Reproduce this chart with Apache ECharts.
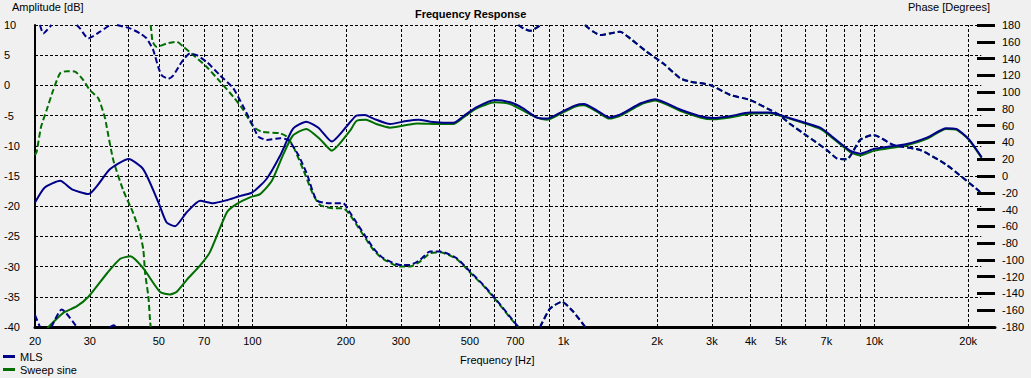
<!DOCTYPE html>
<html>
<head>
<meta charset="utf-8">
<title>Frequency Response</title>
<script src="https://cdn.jsdelivr.net/npm/echarts@6/dist/echarts.min.js"></script>
<style>
  html, body { margin: 0; padding: 0; background: #f0f0f0; }
  #chart { width: 1031px; height: 378px; }
</style>
</head>
<body>
<div id="chart"></div>
<script>
// frequency grid / labels (Hz)
const freqLabels = [20, 30, 50, 70, 100, 200, 300, 500, 700, 1000, 2000, 3000, 4000, 5000, 7000, 10000, 20000];
const freqGrid = [30, 40, 50, 60, 70, 80, 90, 100, 200, 300, 400, 500, 600, 700, 800, 900,
  1000, 2000, 3000, 4000, 5000, 6000, 7000, 8000, 9000, 10000, 20000];
const ampGrid = [-35, -30, -25, -20, -15, -10, -5, 0, 5, 10];
const gridEndFreq = 22050;

// amplitude, MLS (solid blue)
const mlsAmpFreq = [20, 21.5, 24.1, 26.3, 29.7, 34.8, 40, 44.6, 49.9, 53, 56.4, 61.5, 67.9, 74.8, 82.8, 90, 100,
  111, 122.6, 135, 149, 163, 180, 206, 216, 230, 245, 277, 313, 342, 373, 443, 477, 526, 602, 674, 742, 818,
  884, 978, 1093, 1163, 1286, 1404, 1526, 1765, 1971, 2372, 2750, 3040, 3430, 3970, 4600, 5330, 6690, 7040,
  8340, 8980, 10000, 12700, 14800, 17000, 18300, 20100, 22100];
const mlsAmpDb = [-19.4, -16.9, -15.8, -17.2, -18.0, -13.9, -12.2, -13.9, -19.4, -22.7, -23.3, -21.0, -19.1, -19.5, -19.0, -18.4, -17.7,
  -15.5, -11.7, -7.2, -6.0, -7.0, -9.3, -6.1, -5.0, -4.9, -5.5, -6.4, -5.9, -5.7, -6.0, -6.2, -5.1, -3.6, -2.4, -2.8, -3.8, -5.3,
  -5.5, -4.5, -3.3, -3.1, -4.2, -5.3, -4.8, -3.0, -2.3, -4.0, -5.1, -5.4, -5.1, -4.5, -4.5, -5.4, -7.0, -7.8,
  -10.8, -11.3, -10.5, -9.7, -8.6, -7.1, -7.2, -8.9, -11.9];

// amplitude, Sweep sine (solid green)
const sweepAmpFreq = [21.9, 24.6, 27.2, 29.7, 34.1, 37.6, 40.5, 44.6, 50.5, 54.4, 57, 61.5, 67.9, 73, 82.8, 88.6, 98.6,
  105.8, 115.5, 125, 135, 149, 165, 180, 206, 216, 232, 250, 277, 310, 340, 400, 443, 477, 526, 602, 674, 818,
  884, 978, 1093, 1163, 1286, 1404, 1526, 1765, 1971, 2372, 2750, 3040, 3430, 3970, 4600, 5330, 6690, 7040,
  8340, 8980, 10000, 12700, 14800, 17000, 18300, 20100, 22100];
const sweepAmpDb = [-40.2, -37.7, -36.6, -35.0, -31.1, -28.7, -28.3, -30.3, -34.2, -34.6, -34.2, -32.2, -29.8, -27.6, -21.0, -19.7, -18.5,
  -18.0, -15.8, -11.7, -8.3, -7.2, -8.9, -10.8, -7.5, -5.9, -5.7, -6.4, -7.0, -6.6, -6.3, -6.4, -6.4, -5.3, -3.8, -2.8, -3.1, -5.3,
  -5.7, -4.7, -3.5, -3.3, -4.4, -5.5, -5.0, -3.2, -2.5, -4.2, -5.3, -5.6, -5.3, -4.7, -4.6, -5.5, -7.2, -8.0,
  -11.0, -11.6, -10.8, -9.9, -8.8, -7.2, -7.3, -9.0, -12.0];

// phase, MLS (dashed blue); null = wrap at +/-180
const mlsPhaseFreq = [20, 20.75, null, 20.75, 21.27, 22.35, 22.6, null, 22.6, 24.37, 27.24, null,
  27.24, 27.9, 29.67, 32.36, 34.84, null, 34.84, 35.8, 36.7, null,
  36.7, 40.4, 43.5, 45.7, 48.0, 49.8, 51.1, 53.7, 55.7, 59.3, 63, 66.2, 71.3, 78.7, 86.8, 93.5, 99.5,
  104.5, 111.2, 122.7, 130.5, 140.5, 149.5, 161, 177.7, 196, 203.4, 244.8, 263.6, 298.4, 321, 345.8,
  372.5, 401, 454, 501, 553, 610, 674, 716, null, 716, 743, 781, 830, 842, null,
  842, 852, 906, 988, 1077, 1174, null,
  1174, 1189, 1248, 1311, 1412, 1521, 1638, 1854, 2096, 2372, 2554, 2962, 3434, 3982, 4617, 4972,
  5355, 6058, 7025, 7566, 8147, 8989, 9921, 11506, 14020, 17082, 21860];
const mlsPhaseDeg = [-166, -180, null, 180, 170, 178, 180, null, -180, -159, -180, null,
  180, 176, 164, 172, 180, null, -180, -178, -180, null,
  180, 176, 170, 164, 150, 130, 120, 116, 120, 136, 146, 144, 136, 120, 104.5, 82.6, 63,
  47, 43, 45, 43, 25, 3, -29, -32.5, -32.5, -40.5, -86, -98, -106, -106, -100,
  -90, -90, -98, -114, -130, -148, -168, -180, null, 180, 176, 173, 178, 180, null,
  -180, -175.6, -158, -150, -162, -180, null,
  180, 178, 172, 168, 170, 172, 164, 148, 134, 116.5, 112.5, 108.5, 96.6, 90.6, 78.7, 72,
  62, 48, 31, 21, 20, 43, 49, 37, 31, 13, -19];

// phase, Sweep sine (dashed green)
const sweepPhaseFreq = [20, 20.25, 20.9, 21.8, 22.9, 24.07, 25.3, 26.9, 28.6, 30.0, 31.96, 33.6, 34.0, 35.7,
  38.4, 41.4, 43.5, 44.6, 45.2, 46.3, 46.9, 47.1, null,
  47.1, 47.4, 47.8, 49.2, 53.0, 57.1, 60, 64.6, 71.3, 78.7, 86.8, 93.5, 100.7, 107.1, 122.7, 129, 135.4,
  145.8, 157, 165, 182, 196, 206, 244.8, 263.6, 298.4, 321, 345.8, 372.5, 401, 454, 501, 553, 610, 674, 716, null,
  716, 743, 781, 830, 842, null, 842, 852, 906, 988, 1077, 1174, null,
  1174, 1189, 1248, 1311, 1412, 1521, 1638, 1854, 2096, 2372, 2554, 2962, 3434, 3982, 4617, 4972,
  5355, 6058, 7025, 7566, 8147, 8989, 9921, 11506, 14020, 17082, 21860];
const sweepPhaseDeg = [25, 29, 58, 78.7, 102.5, 122.4, 125, 124.4, 114.4, 102.5, 92.6, 68.8, 58.8, 19,
  -16.7, -44.5, -68.3, -88, -116, -144, -174, -180, null,
  180, 170, 160, 154, 158, 160, 154, 144, 130, 112.5, 94.5, 78.7, 58.8, 52.8, 50.9, 46.9, 35,
  7.2, -22.6, -34.6, -38.5, -38.5, -46.5, -88, -99, -108, -108, -102, -92, -91, -99, -115, -131, -149, -169, -180, null,
  180, 176, 173, 178, 180, null, -180, -176, -158, -150, -162, -180, null,
  180, 178, 172, 168, 170, 172, 164, 148, 134, 116.5, 112.5, 108.5, 96.6, 90.6, 78.7, 72,
  62, 48, 31, 21, 20, 43, 49, 37, 31, 13, -19];

const FONT = 'Liberation Sans, Arial, sans-serif';
const BLUE = '#00008b';
const GREEN = '#006e00';
const gridLine = { color: '#000', type: [3, 2], width: 1 };

function zip(f, v) {
  return f.map(function (x, i) { return v[i] === null ? '-' : [x, v[i]]; });
}

const chart = echarts.init(document.getElementById('chart'), null, { renderer: 'svg' });

function legendItem(name, top) {
  return {
    data: [{ name: name, icon: 'rect' }],
    left: 3,
    top: top,
    padding: 0,
    itemWidth: 12,
    itemHeight: 3,
    selectedMode: false,
    textStyle: { fontSize: 11, color: '#000', fontFamily: FONT }
  };
}

const option = {
  animation: false,
  backgroundColor: '#f0f0f0',
  textStyle: { fontFamily: FONT },
  title: {
    text: 'Frequency Response',
    left: 410,
    top: 3,
    textStyle: { fontSize: 11, fontWeight: 'bold', color: '#000', fontFamily: FONT }
  },
  graphic: [
    { type: 'text', left: 12, top: 1, style: { text: 'Amplitude [dB]', font: '11px ' + FONT, fill: '#000' } },
    { type: 'text', left: 908, top: 1, style: { text: 'Phase [Degrees]', font: '11px ' + FONT, fill: '#000' } },
    { type: 'text', left: 460, top: 354, style: { text: 'Frequency [Hz]', font: '11px ' + FONT, fill: '#000' } }
  ],
  legend: [legendItem('MLS', 351), legendItem('Sweep sine', 364)],
  grid: { left: 35, right: 36, top: 25, bottom: 51 },
  xAxis: {
    type: 'log',
    logBase: 10,
    min: 20,
    max: 24400,
    axisLine: { onZero: false, lineStyle: { color: '#000', width: 3 } },
    axisTick: { show: false },
    axisLabel: {
      customValues: freqLabels,
      margin: 8,
      fontSize: 11,
      color: '#000',
      fontFamily: FONT,
      formatter: function (v) { return v >= 1000 ? (v / 1000) + 'k' : String(v); }
    },
    splitLine: { show: false }
  },
  yAxis: [
    {
      type: 'value',
      min: -40,
      max: 10,
      interval: 5,
      axisLine: { show: true, onZero: false, lineStyle: { color: '#000', width: 2 } },
      axisTick: { show: false },
      axisLabel: { align: 'left', margin: 31, fontSize: 11, color: '#000', fontFamily: FONT },
      splitLine: { show: false }
    },
    {
      type: 'value',
      position: 'right',
      min: -180,
      max: 180,
      interval: 20,
      axisLine: { show: false },
      axisTick: { show: true, inside: true, length: 18, lineStyle: { color: '#000', width: 3 } },
      axisLabel: { margin: 7, fontSize: 11, color: '#000', fontFamily: FONT },
      splitLine: { show: false }
    }
  ],
  series: [
    {
      // dashed grid, drawn beneath the curves
      type: 'line', yAxisIndex: 0, data: [], silent: true, z: 1,
      markLine: {
        silent: true, z: 1, symbol: ['none', 'none'], label: { show: false },
        lineStyle: gridLine, emphasis: { disabled: true },
        data: freqGrid.map(function (f) { return { xAxis: f }; }).concat(
          ampGrid.map(function (v) { return [{ coord: [20, v] }, { coord: [gridEndFreq, v] }]; }))
      }
    },
    {
      name: 'Sweep sine', type: 'line', yAxisIndex: 0, showSymbol: false, smooth: 0.2,
      color: GREEN, lineStyle: { color: GREEN, width: 2 },
      data: zip(sweepAmpFreq, sweepAmpDb)
    },
    {
      name: 'Sweep sine', type: 'line', yAxisIndex: 1, showSymbol: false, smooth: 0.2,
      color: GREEN, lineStyle: { color: GREEN, width: 2, type: [6, 3] },
      data: zip(sweepPhaseFreq, sweepPhaseDeg)
    },
    {
      name: 'MLS', type: 'line', yAxisIndex: 0, showSymbol: false, smooth: 0.2,
      color: BLUE, lineStyle: { color: BLUE, width: 2 },
      data: zip(mlsAmpFreq, mlsAmpDb)
    },
    {
      name: 'MLS', type: 'line', yAxisIndex: 1, showSymbol: false, smooth: 0.2,
      color: BLUE, lineStyle: { color: BLUE, width: 2, type: [6, 3] },
      data: zip(mlsPhaseFreq, mlsPhaseDeg)
    }
  ]
};

chart.setOption(option);
</script>
</body>
</html>
